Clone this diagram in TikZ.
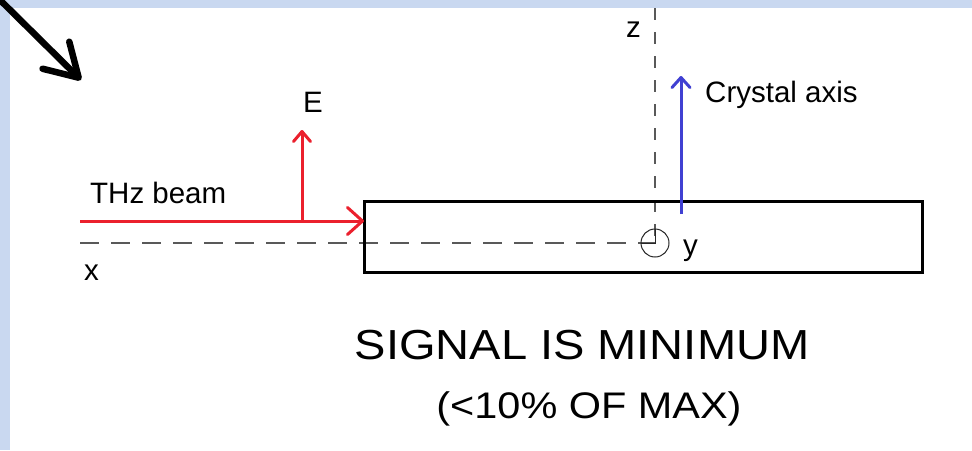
\documentclass[tikz,border=0pt]{standalone}
\usepackage{fontspec}
\setmainfont{Liberation Sans}
\newfontfamily\bigfont[FakeStretch=1.12]{Liberation Sans}
\usetikzlibrary{arrows.meta}
\definecolor{framebg}{RGB}{201,216,240}
\definecolor{beamred}{RGB}{235,32,45}
\definecolor{axisblue}{RGB}{64,64,210}

\tikzset{
  lbl/.style={font=\fontsize{29.5}{31}\selectfont, inner sep=0pt, anchor=base west},
  biglbl/.style={inner sep=0pt, anchor=base},
  hdash/.style={draw=black!65, line width=1.3pt, dash pattern=on 19pt off 12pt},
  vdash/.style={draw=black!65, line width=1.3pt, dash pattern=on 12pt off 12pt},
  redvec/.style={draw=beamred, line width=3pt},
}

\begin{document}
\begin{tikzpicture}[x=1pt,y=-1pt]
      % \draw[help lines, gray!50, very thin] (0,0) grid (972,450);
      \useasboundingbox (0,0) rectangle (972,450);
      \fill[framebg] (0,0) rectangle (972,450);
      \fill[white] (10,8) rectangle (972,450);

      \coordinate (corner) at (-4,-4);
      \coordinate (pointer) at (81,80);
      \coordinate (origin) at (655,243);
      \coordinate (ztop) at (655,8);
      \coordinate (xleft) at (80,243);
      \coordinate (beamstart) at (80,221);
      \coordinate (beamend) at (364,221);
      \coordinate (efoot) at (302,221);
      \coordinate (etip) at (302,130);
      \coordinate (axisfoot) at (681,214);
      \coordinate (axistip) at (681,76);

      % axes
      \draw[hdash] (xleft) -- (origin);
      \draw[vdash] (ztop) -- (origin);
      \draw[black!85, line width=1pt] (origin) circle (14);
      \draw[black!85, line width=1pt] ([yshift=14pt]origin) -- (origin) -- ([xshift=-14pt]origin);

      % crystal
      \draw[line width=3pt] (364,201) rectangle (922,272);

      % beam and field
      \draw[redvec, -{Straight Barb[length=15pt,width=27pt,round]}] (beamstart) -- (beamend);
      \draw[redvec, -{Straight Barb[length=10pt,width=17pt,round]}] (efoot) -- (etip);
      \draw[axisblue, line width=3pt, -{Straight Barb[length=10pt,width=18pt,round]}] (axisfoot) -- (axistip);

      \draw[line width=6.5pt, line cap=round, -{Straight Barb[length=32pt,width=38pt,round]}] (corner) -- (pointer);

      \node[lbl] (thzlabel) at (90,203) {THz beam};
      \node[lbl] (xlabel) at (84,280) {x};
      \node[lbl] (elabel) at (303,112) {E};
      \node[lbl] (zlabel) at (626,37) {z};
      \node[lbl] (axislabel) at (705,102) {Crystal axis};
      \node[lbl] (ylabel) at (683,255) {y};

      \node[biglbl, font=\bigfont\fontsize{42}{44}\selectfont] (verdict) at (582,359) {SIGNAL IS MINIMUM};
      \node[biglbl, font=\bigfont\fontsize{37}{40}\selectfont] (ratio) at (589,418) {(<10\% OF MAX)};
\end{tikzpicture}
\end{document}
